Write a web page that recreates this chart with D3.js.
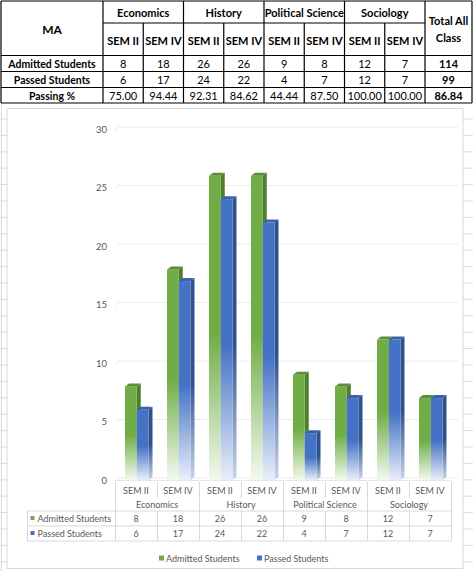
<!DOCTYPE html>
<html>
<head>
<meta charset="utf-8">
<script src="https://cdn.jsdelivr.net/npm/d3@7"></script>
<style>
  body { margin: 0; background: #fff; }
  svg { display: block; }
</style>
</head>
<body>
<svg id="chart"></svg>
<script>
// data
const subjects = ["Economics", "History", "Political Science", "Sociology"];
const semesters = ["SEM II", "SEM IV"];
const admitted = [8, 18, 26, 26, 9, 8, 12, 7];
const passed = [6, 17, 24, 22, 4, 7, 12, 7];
const passingPct = ["75.00", "94.44", "92.31", "84.62", "44.44", "87.50", "100.00", "100.00"];
const totals = ["114", "99", "86.84"];
const seriesNames = ["Admitted Students", "Passed Students"];
const yTicks = [0, 5, 10, 15, 20, 25, 30];

const width = 473, height = 571;
const svg = d3.select("#chart").attr("width", width).attr("height", height);
const font = "Lato, 'Open Sans', sans-serif";

// columns = subject x semester
const cols = [];
subjects.forEach(s => semesters.forEach(m => cols.push(s + "|" + m)));

// ---------- excel background grid ----------
const bg = svg.append("g").attr("stroke", "#dadada").attr("stroke-width", 1);
d3.range(119, 571, 16.4).forEach(yy => {
  bg.append("line").attr("x1", 0).attr("x2", 7).attr("y1", yy).attr("y2", yy);
  bg.append("line").attr("x1", 463).attr("x2", 473).attr("y1", yy).attr("y2", yy);
});
bg.append("line").attr("x1", 1.5).attr("x2", 1.5).attr("y1", 103).attr("y2", 571);

// ---------- top table ----------
const tx = d3.scaleBand().domain(cols).range([103, 425]);
const sheet = svg.append("g").attr("font-family", font).attr("fill", "#000");
const rowsY = [1, 23, 55.5, 71.5, 87.5, 103];
const line = (x1, y1, x2, y2) => sheet.append("line")
  .attr("x1", x1).attr("y1", y1).attr("x2", x2).attr("y2", y2)
  .attr("stroke", "#000").attr("stroke-width", 1.2);

// horizontals
line(1, rowsY[0], 472, rowsY[0]);
line(103, rowsY[1], 425, rowsY[1]);
[2, 3, 4, 5].forEach(i => line(1, rowsY[i], 472, rowsY[i]));
// verticals
line(1, 1, 1, 103);
line(472, 1, 472, 103);
line(425, 1, 425, 103);
cols.forEach((c, i) => {
  line(tx(c), i % 2 === 0 ? 1 : 23, tx(c), 103);
});

const ttext = (xx, yy, t, bold, size) => sheet.append("text")
  .attr("x", xx).attr("y", yy)
  .attr("text-anchor", "middle")
  .attr("dominant-baseline", "central")
  .attr("font-size", size || 11)
  .attr("font-weight", bold ? "bold" : "normal")
  .text(t);

ttext(52, 29, "MA", true, 12);
subjects.forEach((s, i) => {
  ttext(tx(cols[i * 2]) + tx.bandwidth(), 12, s, true);
});
cols.forEach((c, i) => {
  const cx = tx(c) + tx.bandwidth() / 2;
  ttext(cx, 40, semesters[i % 2], true);
  ttext(cx, 63.5, admitted[i], false);
  ttext(cx, 79.5, passed[i], false);
  ttext(cx, 95.5, passingPct[i], false);
});
ttext(448.5, 20, "Total All", true);
ttext(448.5, 37, "Class", true);
ttext(52, 63.5, "Admitted Students", true, 10.5);
ttext(52, 79.5, "Passed Students", true, 10.5);
ttext(52, 95.5, "Passing %", true, 10.5);
totals.forEach((t, i) => ttext(448.5, 63.5 + i * 16, t, true));

// ---------- chart box ----------
svg.append("rect")
  .attr("x", 7).attr("y", 108.5).attr("width", 456).attr("height", 460)
  .attr("fill", "#fff").attr("stroke", "#d9d9d9");

const x = d3.scaleBand().domain(cols).range([115, 451]);
const xs = d3.scaleBand().domain(seriesNames).range([10, 33.5]);
const y = d3.scaleLinear().domain([0, 30]).range([480, 129]);
const dx = 4, dy = 3;

const colors = {
  "Admitted Students": { front: "#70ad47", fade: "#f3f9ef", side: "#4e7f2f", sideFade: "#dbe9d1", top: "#5a8f37" },
  "Passed Students": { front: "#4472c4", fade: "#e9effa", side: "#2f528f", sideFade: "#c9d5ec", top: "#3a62aa" }
};

const defs = svg.append("defs");
seriesNames.forEach((s, i) => {
  const c = colors[s];
  [["f" + i, c.front, c.fade], ["s" + i, c.side, c.sideFade]].forEach(([id, c1, c2]) => {
    const g = defs.append("linearGradient").attr("id", "grad" + id)
      .attr("x1", 0).attr("y1", 0).attr("x2", 0).attr("y2", 1);
    g.append("stop").attr("offset", 0).attr("stop-color", c1);
    g.append("stop").attr("offset", 0.52).attr("stop-color", c1);
    g.append("stop").attr("offset", 1).attr("stop-color", c2);
  });
});

// back wall gridlines
const grid = svg.append("g");
yTicks.forEach(t => {
  grid.append("path")
    .attr("d", `M115,${y(t) + 1}L${115 + dx},${y(t) - dy + 1}L458,${y(t) - dy + 1}`)
    .attr("fill", "none").attr("stroke", "#ececec").attr("stroke-width", 1);
});
grid.append("line").attr("x1", 115).attr("x2", 451).attr("y1", 480.5).attr("y2", 480.5)
  .attr("stroke", "#e6e6e6");

// y axis labels
const yAxis = svg.append("g")
  .attr("transform", "translate(107,0)")
  .call(d3.axisLeft(y).tickValues(yTicks).tickSize(0).tickPadding(0));
yAxis.select(".domain").remove();
yAxis.selectAll("text").attr("font-family", font).attr("font-size", 9.5).attr("fill", "#595959");

// bars
const bars = svg.append("g");
cols.forEach((c, i) => {
  [admitted[i], passed[i]].forEach((v, si) => {
    const s = seriesNames[si];
    const col = colors[s];
    const x0 = x(c) + xs(s), w = xs.bandwidth();
    const yT = y(v), y0 = y(0);
    const g = bars.append("g");
    g.append("polygon")
      .attr("points", [[x0 + w, yT], [x0 + w + dx, yT - dy], [x0 + w + dx, y0 - dy], [x0 + w, y0]].join(" "))
      .attr("fill", `url(#grads${si})`);
    g.append("rect")
      .attr("x", x0).attr("y", yT).attr("width", w).attr("height", y0 - yT)
      .attr("fill", `url(#gradf${si})`);
    g.append("polygon")
      .attr("points", [[x0, yT], [x0 + dx, yT - dy], [x0 + w + dx, yT - dy], [x0 + w, yT]].join(" "))
      .attr("fill", col.top);
  });
});

// ---------- data table under the axis ----------
const tb = svg.append("g").attr("font-family", font).attr("font-size", 9).attr("fill", "#595959");
const tl = (x1, y1, x2, y2) => tb.append("line")
  .attr("x1", x1).attr("y1", y1).attr("x2", x2).attr("y2", y2)
  .attr("stroke", "#d9d9d9").attr("stroke-width", 1);

const cellText = (xx, yy, t) => tb.append("text").attr("x", xx).attr("y", yy)
  .attr("text-anchor", "middle").attr("dominant-baseline", "central").text(t);

cols.forEach((c, i) => {
  const xx = x(c) + 0.5;
  tl(xx, 482, xx, i % 2 === 0 ? 541 : 498);
  tl(xx, 511, xx, 541);
  const cx = x(c) + x.bandwidth() / 2;
  cellText(cx, 490, semesters[i % 2]);
  cellText(cx, 518, admitted[i]);
  cellText(cx, 533, passed[i]);
});
tl(x.range()[1] + 0.5, 482, x.range()[1] + 0.5, 541);
subjects.forEach((s, i) => cellText(x(cols[i * 2]) + x.bandwidth(), 504, s));
tl(27, 511, 451, 511);
tl(27, 526, 451, 526);
tl(27, 541, 451, 541);
tl(27.5, 511, 27.5, 541);
seriesNames.forEach((s, i) => {
  const yy = 518 + i * 15;
  tb.append("rect").attr("x", 30.5).attr("y", yy - 2).attr("width", 4).attr("height", 4)
    .attr("fill", colors[s].front);
  tb.append("text").attr("x", 37.5).attr("y", yy).attr("dominant-baseline", "central").text(s);
});

// ---------- legend ----------
const legendX = [159, 257];
seriesNames.forEach((s, i) => {
  const lg = svg.append("g").attr("transform", `translate(${legendX[i]},558)`);
  lg.append("rect").attr("x", 0).attr("y", -2.5).attr("width", 5).attr("height", 5)
    .attr("fill", colors[s].front);
  lg.append("text").attr("x", 7).attr("y", 0).attr("dominant-baseline", "central")
    .attr("font-family", font).attr("font-size", 9).attr("fill", "#595959").text(s);
});
</script>
</body>
</html>
